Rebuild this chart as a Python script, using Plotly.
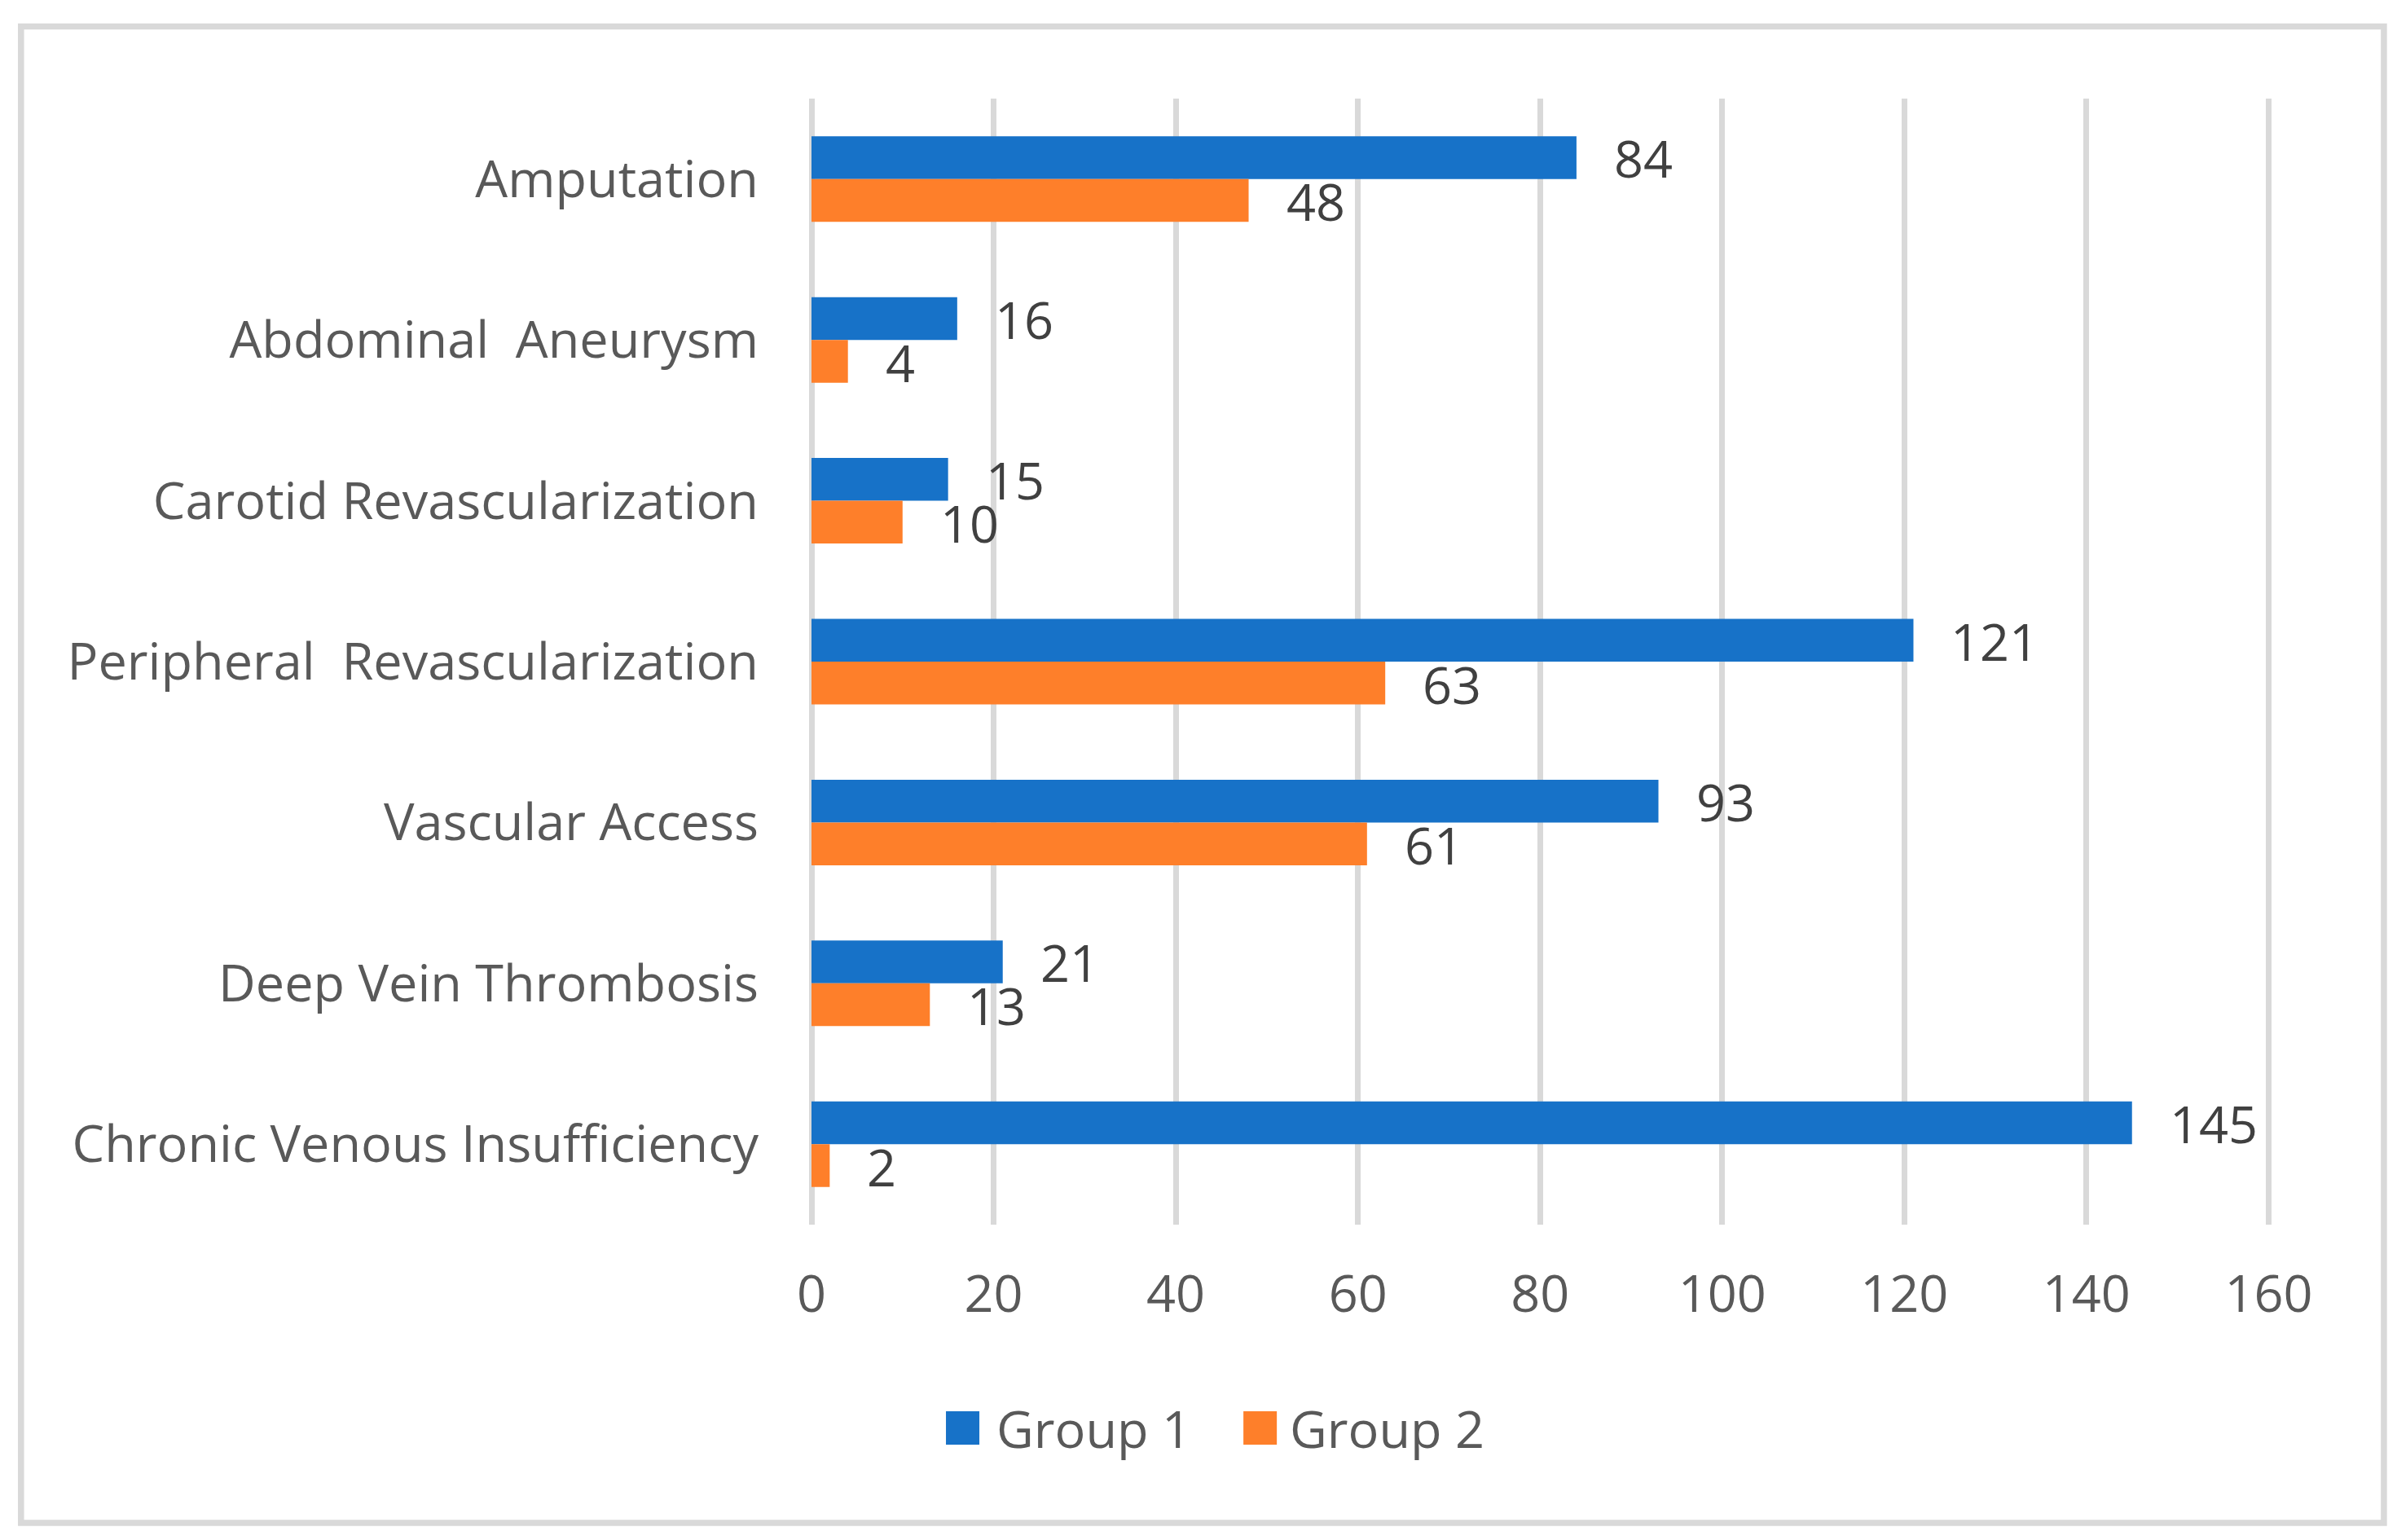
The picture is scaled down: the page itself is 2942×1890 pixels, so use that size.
import plotly.graph_objects as go

categories = [
    "Amputation",
    "Abdominal  Aneurysm",
    "Carotid Revascularization",
    "Peripheral  Revascularization",
    "Vascular Access",
    "Deep Vein Thrombosis",
    "Chronic Venous Insufficiency",
]
group1 = [84, 16, 15, 121, 93, 21, 145]
group2 = [48, 4, 10, 63, 61, 13, 2]
series_names = ["Group 1", "Group 2"]
series_colors = ["#1772C8", "#FE7F2A"]
x_ticks = [0, 20, 40, 60, 80, 100, 120, 140, 160]
x_max = 160.5

W, H = 2942, 1890
UNIT = 1788 / 160  # pixels per x unit
L, T, B = 996, 121, 1503  # plot area pixel edges
R = L + x_max * UNIT
PW, PH = R - L, B - T


def px_x(p):
    return (p - L) / PW


def px_y(p):
    return (B - p) / PH


FONT = "Open Sans"
AXIS_COLOR = "#595959"
LABEL_COLOR = "#404040"
FS = 63

fig = go.Figure()
for name, vals, col in zip(series_names, [group1, group2], series_colors):
    fig.add_trace(go.Bar(
        y=categories, x=vals, name=name, orientation="h",
        marker=dict(color=col, line=dict(width=0)),
        showlegend=False,
    ))

annotations = []
for vals, ysh in [(group1, 26), (group2, -27)]:
    for c, v in zip(categories, vals):
        annotations.append(dict(
            x=v, y=c, xref="x", yref="y", text=str(v), showarrow=False,
            xanchor="left", yanchor="middle", xshift=44, yshift=ysh,
            font=dict(family=FONT, size=FS, color=LABEL_COLOR),
        ))

# legend (manual, to get large square swatches)
legend_items = [(1161, 1224), (1526, 1584)]
shapes = [dict(
    type="rect", xref="paper", yref="paper",
    x0=px_x(26), x1=px_x(2925.5), y0=px_y(32.5), y1=px_y(1869),
    line=dict(color="#D9D9D9", width=7.5), fillcolor="rgba(0,0,0,0)", layer="below",
)]
for (sx, tx), name, col in zip(legend_items, series_names, series_colors):
    shapes.append(dict(
        type="rect", xref="paper", yref="paper",
        x0=px_x(sx), x1=px_x(sx + 41), y0=px_y(1732), y1=px_y(1773),
        line=dict(width=0), fillcolor=col,
    ))
    annotations.append(dict(
        x=px_x(tx - 3), y=px_y(1752), xref="paper", yref="paper", text=name,
        showarrow=False, xanchor="left", yanchor="middle",
        font=dict(family=FONT, size=FS, color=AXIS_COLOR),
    ))

fig.update_layout(
    width=W, height=H,
    margin=dict(l=L, r=W - R, t=T, b=H - B, pad=0),
    paper_bgcolor="white", plot_bgcolor="white",
    barmode="group", bargap=0.468, bargroupgap=0,
    font=dict(family=FONT, size=FS, color=AXIS_COLOR),
    xaxis=dict(
        range=[0, x_max], tickvals=x_ticks, ticktext=[str(t) for t in x_ticks],
        showgrid=True, gridcolor="#D9D9D9", gridwidth=7,
        zeroline=True, zerolinecolor="#D9D9D9", zerolinewidth=7,
        showline=False, ticks="", ticklabelstandoff=43,
        tickfont=dict(family=FONT, size=FS, color=AXIS_COLOR),
    ),
    yaxis=dict(
        autorange="reversed", showgrid=False, zeroline=False, showline=False,
        ticks="", ticklabelstandoff=64,
        tickfont=dict(family=FONT, size=FS, color=AXIS_COLOR),
    ),
    annotations=annotations, shapes=shapes, showlegend=False,
)

fig.write_html("out.html", config={"displayModeBar": False},
               post_script="document.body.style.margin='0';")
